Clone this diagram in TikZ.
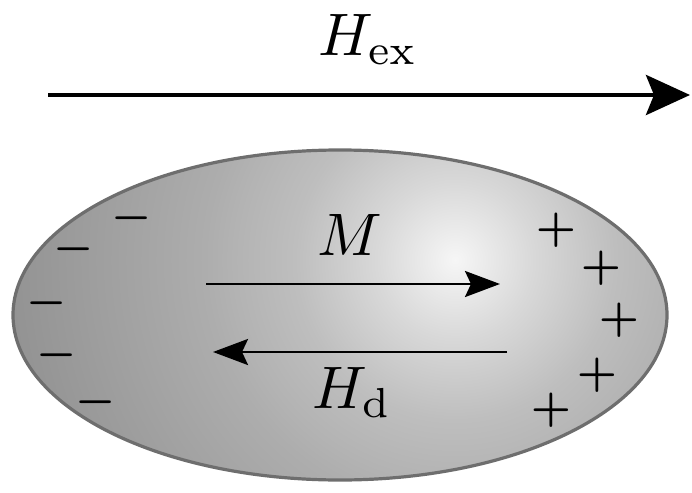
\documentclass[tikz,border=0pt]{standalone}
\usetikzlibrary{shapes.geometric,arrows.meta}
\definecolor{g0}{HTML}{F6F6F6}
\definecolor{g1}{HTML}{D8D8D8}
\definecolor{g2}{HTML}{BEBEBE}
\definecolor{g3}{HTML}{B3B3B3}
\definecolor{g4}{HTML}{ADADAD}
\definecolor{g5}{HTML}{939393}
\definecolor{rim}{HTML}{6E6E6E}
\pgfdeclareradialshading{glow}{\pgfpointorigin}{color(0bp)=(g0); color(4.3bp)=(g1); color(8.7bp)=(g2); color(12bp)=(g3); color(13.6bp)=(g4); color(24.2bp)=(g5); color(50bp)=(g5)}
\tikzset{
  lbl/.style={inner sep=0pt, scale=6},
  sgn/.style={inner sep=0pt, scale=4.5, font=\boldmath},
  bigarrow/.style={line width=4.5pt, -{Stealth[length=44pt,width=40pt,inset=8pt]}},
  smallarrow/.style={line width=2.8pt, -{Stealth[length=35pt,width=26pt,inset=6pt]}},
  body/.style={ellipse, draw=rim, line width=3.2pt, minimum width=654pt, minimum height=330pt, inner sep=0pt,
    path picture={\shade[shading=glow] ([shift={(115pt,55pt)}]path picture bounding box.center) circle (460pt);}}
}
\begin{document}
\begin{tikzpicture}[x=1pt,y=-1pt]
\useasboundingbox (0,0) rectangle (692,492);
\node[body] (ell) at (340,315) {};
\coordinate (hexs) at (48,95);
\coordinate (hexe) at (690,95);
\draw[bigarrow] (hexs) -- (hexe);
\node[lbl] (hex) at (368,40) {$H_{\mathrm{ex}}$};
\coordinate (ms) at (206,284);
\coordinate (me) at (500,284);
\draw[smallarrow] (ms) -- (me);
\coordinate (hds) at (507,352);
\coordinate (hde) at (213,352);
\draw[smallarrow] (hds) -- (hde);
\node[lbl] (m) at (350,235) {$M$};
\node[lbl] (hd) at (352,392) {$H_{\mathrm{d}}$};
\node[sgn] (m1) at (132,218) {$-$};
\node[sgn] (m2) at (74,249) {$-$};
\node[sgn] (m3) at (47,303) {$-$};
\node[sgn] (m4) at (57,355) {$-$};
\node[sgn] (m5) at (96,402) {$-$};
\node[sgn] (p1) at (556,230) {$+$};
\node[sgn] (p2) at (601,268) {$+$};
\node[sgn] (p3) at (619,320) {$+$};
\node[sgn] (p4) at (597,375) {$+$};
\node[sgn] (p5) at (551,410) {$+$};
\end{tikzpicture}
\end{document}
